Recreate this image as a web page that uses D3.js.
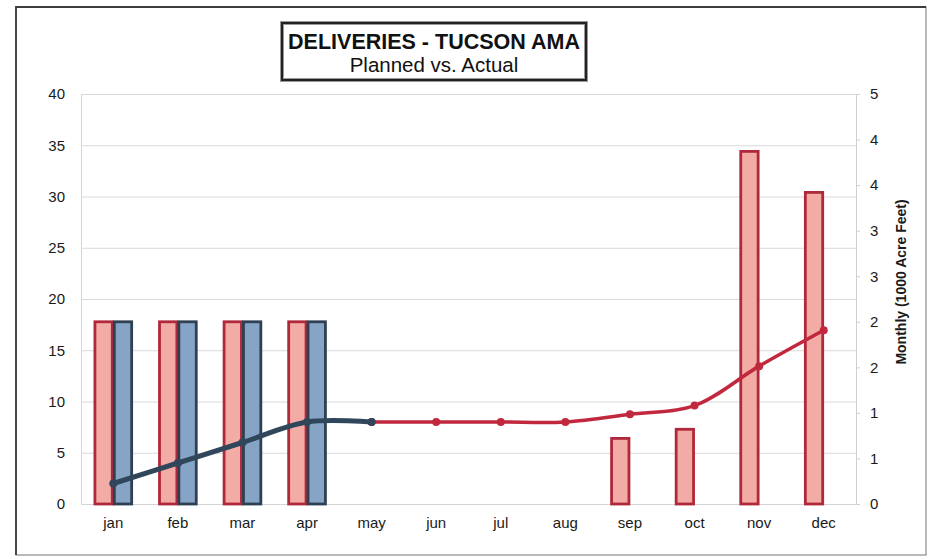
<!DOCTYPE html>
<html>
<head>
<meta charset="utf-8">
<script src="https://cdn.jsdelivr.net/npm/d3@7"></script>
<style>
  html, body { margin: 0; padding: 0; background: #fff; }
  svg { display: block; font-family: "Liberation Sans", Arial, sans-serif; }
</style>
</head>
<body>
<svg id="chart" width="930" height="559"></svg>
<script>
// Monthly deliveries (1000 acre-feet, right axis) and running totals (left axis)
const months = ["jan", "feb", "mar", "apr", "may", "jun", "jul", "aug", "sep", "oct", "nov", "dec"];
const plannedMonthly = [2.0, 2.0, 2.0, 2.0, 0, 0, 0, 0, 0.72, 0.82, 3.87, 3.42];
const actualMonthly = [2.0, 2.0, 2.0, 2.0, null, null, null, null, null, null, null, null];
const plannedCumulative = [null, null, null, null, 8.0, 8.0, 8.0, 8.0, 8.75, 9.6, 13.45, 16.95];
const actualCumulative = [2.0, 4.0, 6.0, 8.0, 8.0, null, null, null, null, null, null, null];
const leftTicks = [0, 5, 10, 15, 20, 25, 30, 35, 40];
const rightTicks = [0, 0.5, 1, 1.5, 2, 2.5, 3, 3.5, 4, 4.5];

const svg = d3.select("#chart");
const plot = { left: 81, right: 856, top: 94, bottom: 504 };

const x = d3.scaleBand().domain(months).range([plot.left, plot.right]).padding(0);
const bw = x.bandwidth();
const xSub = d3.scaleBand().domain(["planned", "actual"]).range([bw * 0.2, bw * 0.8]).padding(0);
const yLeft = d3.scaleLinear().domain([0, 40]).range([plot.bottom, plot.top]);
const yRight = d3.scaleLinear().domain([0, 4.5]).range([plot.bottom, plot.top]);

const red = { fill: "#f3aba5", stroke: "#b0283b", line: "#c2283d" };
const blue = { fill: "#86a4c6", stroke: "#2e4052", line: "#2f465b" };

// outer frame
svg.append("rect")
  .attr("x", 16).attr("y", 7).attr("width", 910).attr("height", 548)
  .attr("fill", "#fff").attr("stroke", "#8a8a8a").attr("stroke-width", 1.2);
svg.append("path")
  .attr("d", `M16,555V7H926`)
  .attr("fill", "none").attr("stroke", "#3c3c3c").attr("stroke-width", 1.8);

// horizontal gridlines from the left axis
const gLeft = svg.append("g")
  .attr("transform", `translate(${plot.left},0)`)
  .call(d3.axisLeft(yLeft).tickValues(leftTicks).tickSize(-(plot.right - plot.left)).tickPadding(16));
gLeft.select(".domain").attr("stroke", "#d4d4d4");
gLeft.selectAll(".tick line").attr("stroke", "#d9d9d9").attr("stroke-width", 1.2);
gLeft.selectAll(".tick text")
  .attr("font-size", 15).attr("fill", "#1a1a1a").attr("font-family", "Liberation Sans, Arial, sans-serif");

// right axis
const gRight = svg.append("g")
  .attr("transform", `translate(${plot.right},0)`)
  .call(d3.axisRight(yRight).tickValues(rightTicks).tickSize(4).tickPadding(10)
    .tickFormat(d => String(Math.floor(d + 0.5))));
gRight.select(".domain").attr("stroke", "#cfcfcf");
gRight.selectAll(".tick line").attr("stroke", "#cfcfcf");
gRight.selectAll(".tick text")
  .attr("font-size", 15).attr("fill", "#1a1a1a").attr("font-family", "Liberation Sans, Arial, sans-serif");

// category axis
const gX = svg.append("g")
  .attr("transform", `translate(0,${plot.bottom})`)
  .call(d3.axisBottom(x).tickSize(0).tickPadding(13));
gX.select(".domain").attr("stroke", "#d4d4d4");
gX.selectAll(".tick text")
  .attr("font-size", 15).attr("fill", "#1a1a1a").attr("font-family", "Liberation Sans, Arial, sans-serif");

// monthly bars
const barData = [];
months.forEach((m, i) => {
  if (plannedMonthly[i]) barData.push({ m, key: "planned", v: plannedMonthly[i], c: red });
  if (actualMonthly[i]) barData.push({ m, key: "actual", v: actualMonthly[i], c: blue });
});
svg.append("g").selectAll("rect").data(barData).join("rect")
  .attr("x", d => x(d.m) + xSub(d.key) + 1)
  .attr("width", xSub.bandwidth() - 2)
  .attr("y", d => yRight(d.v))
  .attr("height", d => yRight(0) - yRight(d.v))
  .attr("fill", d => d.c.fill)
  .attr("stroke", d => d.c.stroke)
  .attr("stroke-width", 2.8);

// cumulative lines
function drawLine(values, color, width) {
  const pts = months.map((m, i) => ({ m, v: values[i] }));
  const line = d3.line()
    .defined(d => d.v != null)
    .x(d => x(d.m) + bw / 2)
    .y(d => yLeft(d.v))
    .curve(d3.curveCatmullRom.alpha(0.5));
  svg.append("path").datum(pts)
    .attr("d", line).attr("fill", "none")
    .attr("stroke", color).attr("stroke-width", width)
    .attr("stroke-linejoin", "round").attr("stroke-linecap", "round");
  svg.append("g").selectAll("circle").data(pts.filter(d => d.v != null)).join("circle")
    .attr("cx", d => x(d.m) + bw / 2)
    .attr("cy", d => yLeft(d.v))
    .attr("r", 4)
    .attr("fill", color);
}
drawLine(plannedCumulative, red.line, 3.6);
drawLine(actualCumulative, blue.line, 5);

// right axis title
svg.append("text")
  .attr("transform", `translate(906,282) rotate(-90)`)
  .attr("text-anchor", "middle")
  .attr("font-size", 14).attr("font-weight", "bold").attr("fill", "#1a1a1a")
  .text("Monthly (1000 Acre Feet)");

// title box
svg.append("rect")
  .attr("x", 282).attr("y", 23).attr("width", 304).attr("height", 57)
  .attr("fill", "#fff").attr("stroke", "#9a9a9a").attr("stroke-width", 4);
svg.append("rect")
  .attr("x", 282).attr("y", 23).attr("width", 304).attr("height", 57)
  .attr("fill", "none").attr("stroke", "#222").attr("stroke-width", 2);
svg.append("text")
  .attr("x", 434).attr("y", 49).attr("text-anchor", "middle")
  .attr("font-size", 21.5).attr("font-weight", "bold").attr("fill", "#111")
  .text("DELIVERIES - TUCSON AMA");
svg.append("text")
  .attr("x", 434).attr("y", 72).attr("text-anchor", "middle")
  .attr("font-size", 20.5).attr("fill", "#111")
  .text("Planned vs. Actual");
</script>
</body>
</html>
